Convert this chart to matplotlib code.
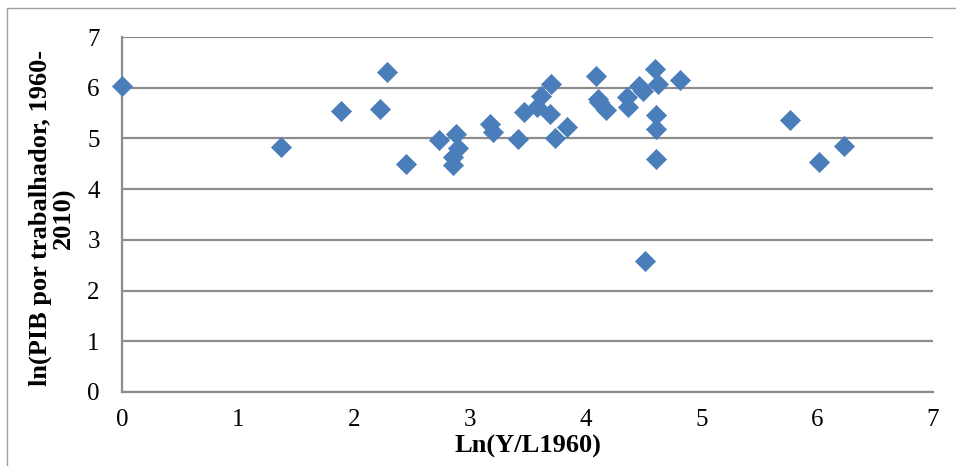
import numpy as np
import matplotlib.pyplot as plt
from matplotlib.patches import Rectangle

# valores
ln_y_l1960 = [0.00, 1.37, 1.89, 2.23, 2.29, 2.45, 2.74, 2.86, 2.86, 2.88, 2.90,
              3.18, 3.20, 3.42, 3.47, 3.58, 3.62, 3.69, 3.70, 3.74, 3.84,
              4.09, 4.11, 4.12, 4.18, 4.36, 4.37, 4.46, 4.50, 4.51, 4.60,
              4.61, 4.61, 4.61, 4.63, 4.82, 5.77, 6.02, 6.23]
ln_pib_trab = [6.04, 4.83, 5.55, 5.59, 6.31, 4.49, 4.96, 4.64, 4.47, 5.09, 4.81,
               5.29, 5.12, 4.99, 5.53, 5.62, 5.83, 5.48, 6.08, 5.00, 5.22,
               6.24, 5.78, 5.71, 5.57, 5.81, 5.61, 6.04, 5.94, 2.59, 6.37,
               5.47, 5.19, 4.59, 6.08, 6.16, 5.36, 4.53, 4.86]

xticks = list(range(0, 8))
yticks = list(range(0, 8))

plt.rcParams['font.family'] = ['Liberation Serif', 'DejaVu Serif']

fig = plt.figure(figsize=(9.56, 4.66), dpi=100)
fig.patches.append(Rectangle((7 / 956, -0.1), 1.2, 1 - 8 / 466 + 0.1, transform=fig.transFigure,
                             fill=False, edgecolor='#a0a0a0', linewidth=1.0))
ax = fig.add_axes([122 / 956, 74 / 466, 811 / 956, 355 / 466])

ax.scatter(ln_y_l1960, ln_pib_trab, marker='D', s=105, color='#4a7ebb',
           edgecolors='#4a7ebb', linewidths=0.5, zorder=3, clip_on=False)

ax.set_xlim(0, 7)
ax.set_ylim(0, 7)
ax.set_xticks(xticks)
ax.set_yticks(yticks)
ax.tick_params(length=0, labelsize=18, colors='black')
ax.tick_params(axis='x', pad=12)
ax.tick_params(axis='y', pad=16)
ax.grid(axis='y', color='#8c8c8c', linewidth=1.6, zorder=1)
ax.set_axisbelow(True)
for s in ['top', 'right']:
    ax.spines[s].set_visible(False)
ax.spines['left'].set_color('#8c8c8c')
ax.spines['left'].set_linewidth(1.6)
ax.spines['bottom'].set_color('#8c8c8c')
ax.spines['bottom'].set_linewidth(1.6)

ax.set_xlabel('Ln(Y/L1960)', fontsize=19, fontweight='bold', va='center')
ax.xaxis.set_label_coords(0.5, -0.152)
ax.set_ylabel('ln(PIB por trabalhador, 1960-\n2010)', fontsize=19, fontweight='bold',
              multialignment='center', linespacing=1.0, va='center')
ax.yaxis.set_label_coords(-0.086, 0.49)

fig.savefig('out.png', dpi=100)
